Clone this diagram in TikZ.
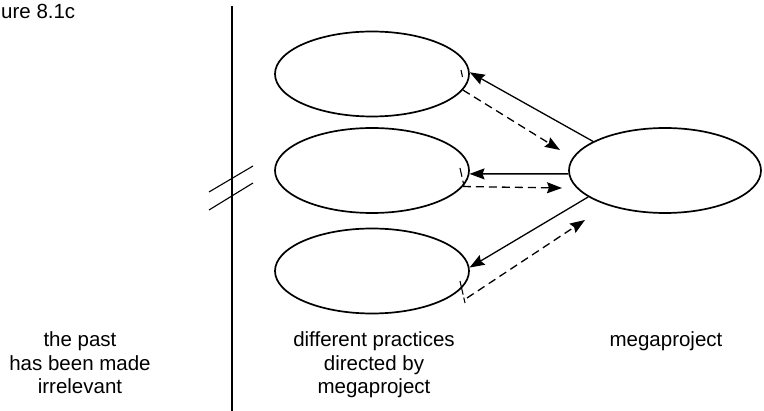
\documentclass[tikz,border=0pt]{standalone}
\usepackage{fontspec}
\setmainfont{Liberation Sans}
\usepackage{tikz}
\usetikzlibrary{arrows.meta,positioning,shapes.geometric}

\tikzset{
  practice/.style={ellipse, draw, line width=1.7pt, minimum width=194pt,
    minimum height=85pt, inner sep=0pt},
  label/.style={align=center, inner sep=0pt, anchor=base,
    font=\fontsize{20.5}{23.5}\selectfont},
  order/.style={line width=1.3pt, -{Stealth[length=15pt,width=11pt,inset=2pt]}},
  feedback/.style={order, dash pattern=on 8pt off 5pt}
}

\begin{document}
\begin{tikzpicture}[x=1pt,y=-1pt]
  \useasboundingbox (0,0) rectangle (764,411);

  \node[label, anchor=base west] (fig) at (1,18.5) {ure 8.1c};

  \draw[line width=1.3pt] (232,6) -- (232,411);
  \draw[line width=1.1pt] (209,192) -- (253,166);
  \draw[line width=1.1pt] (209,210) -- (253,183);

  \node[practice] (top) at (372,74) {};
  \node[practice] (mid) at (372,170.5) {};
  \node[practice] (bot) at (372,271) {};
  \node[practice, minimum width=192pt] (mega) at (665,170.5) {};

  \coordinate (tend) at (560,150);
  \coordinate (mend) at (562,188);
  \coordinate (bstart) at (467,298);
  \coordinate (bend) at (585,220);

  \draw[order] (mega.158) -- (top.1);
  \draw[order] (mega.182) -- (mid.-2);
  \draw[order] (mega.199) -- (bot.2);

  \draw[feedback] (top.-10) -- (tend);
  \draw[feedback] (mid.-10) -- (mend);
  \draw[feedback] (bstart) -- (bend);

  \draw[line width=1.1pt] (461,70) -- (462.5,77);
  \draw[line width=1.1pt, dash pattern=on 9pt off 4pt] (460,168) -- (464,186);
  \draw[line width=1.1pt, dash pattern=on 14pt off 3pt] (460,281) -- (465,303);

  \node[label] (past) at (80,394) {the past\\has been made\\irrelevant};
  \node[label] (diff) at (374,394) {different practices\\directed by\\megaproject};
  \node[label] (proj) at (666,347) {megaproject};
\end{tikzpicture}
\end{document}
